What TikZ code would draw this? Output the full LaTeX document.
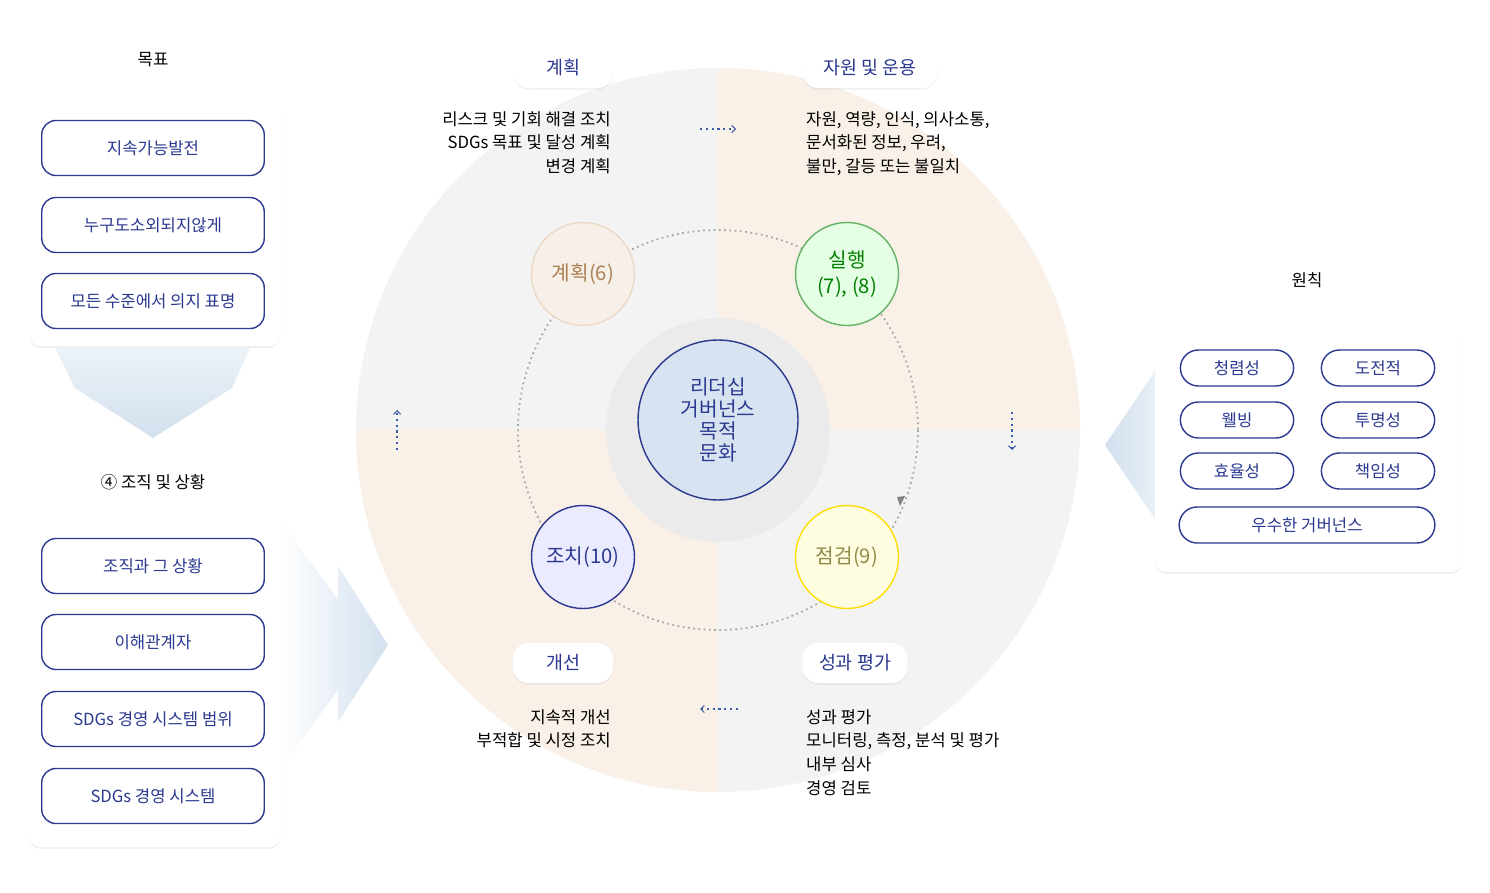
\documentclass[tikz,border=0pt]{standalone}
\usepackage{fontspec}
\setmainfont{Noto Sans CJK KR}
\usetikzlibrary{arrows.meta,positioning,shadows,shapes.misc}
\definecolor{navy}{HTML}{2B3990}
\definecolor{qgray}{HTML}{F3F3F3}
\definecolor{qbeige}{HTML}{F9F0E8}
\definecolor{arrowblue}{HTML}{D2E0EE}
\definecolor{dotblue}{HTML}{3C5BA8}

\begin{document}
\begin{tikzpicture}[
    x=0.02cm, y=-0.02cm,
    font=\fontsize{9.5}{12}\selectfont,
    card/.style={fill=white, rounded corners=6pt, drop shadow={opacity=0.12, shadow xshift=0pt, shadow yshift=-1pt}},
    goalbox/.style={draw=navy, thick, rounded corners=8pt, minimum width=4.45cm, minimum height=1.1cm, text=navy, fill=white},
    pill/.style={draw=navy, thick, rounded rectangle, minimum width=2.5cm, minimum height=0.72cm, text=navy, fill=white},
    tag/.style={fill=white, rounded corners=9pt, minimum width=2cm, minimum height=0.8cm, text=navy, font=\fontsize{10.5}{12}\selectfont, drop shadow={opacity=0.1, shadow xshift=0pt, shadow yshift=-1pt}},
    stage/.style={circle, minimum size=2.06cm, line width=0.8pt, font=\fontsize{11.5}{15}\selectfont, align=center},
    txt/.style={align=#1, font=\fontsize{9.5}{13.5}\selectfont},
    dotarrow/.style={dotblue, line width=1.3pt, dotted, -{Straight Barb[length=2pt,width=4pt,line width=0.6pt]}}
  ]
  \useasboundingbox (0,0) rectangle (1490,892);

  % Cycle background
  \fill[qgray] (718,430) circle[radius=362];
  \begin{scope}
    \clip (718,430) circle[radius=362];
    \fill[qbeige] (718,430) rectangle (1090,60);
    \fill[qbeige] (718,430) rectangle (346,800);
  \end{scope}
  \draw[gray!70, line width=1pt, dotted] (718,430) circle[radius=200];
  \fill[black!8] (718,430) circle[radius=112];
  \node[circle, draw=navy, thick, fill=arrowblue!90!white, minimum size=3.2cm, text=navy, align=center,
        font=\fontsize{11.5}{12.5}\selectfont] (core) at (718,420) {리더십\\거버넌스\\목적\\문화};

  % Stages
  \node[stage, draw=brown!30, fill=brown!12, text=brown!70!gray] (plan) at (583,274) {계획(6)};
  \node[stage, draw=green!50!black!60, fill=green!10, text=green!50!black] (do) at (847,274) {실행\\(7), (8)};
  \node[stage, draw=yellow!80!orange, fill=yellow!12, text=yellow!50!black] (check) at (847,557) {점검(9)};
  \node[stage, draw=navy, fill=blue!8, text=navy] (act) at (583,557) {조치(10)};
  \fill[gray] (900,506) -- (905,496) -- (897,497) -- cycle;

  % Tags and texts
  \node[tag] (tplan) at (563,68) {계획};
  \node[tag, minimum width=2.7cm] (tdo) at (870,68) {자원 및 운용};
  \node[tag] (tact) at (563,663) {개선};
  \node[tag, minimum width=2.1cm] (tcheck) at (855,663) {성과 평가};
  \node[txt=right, anchor=north east] (xplan) at (617,105) {리스크 및 기회 해결 조치\\SDGs 목표 및 달성 계획\\변경 계획};
  \node[txt=left, anchor=north west] (xdo) at (800,105) {자원, 역량, 인식, 의사소통,\\문서화된 정보, 우려,\\불만, 갈등 또는 불일치};
  \node[txt=right, anchor=north east] (xact) at (617,703) {지속적 개선\\부적합 및 시정 조치};
  \node[txt=left, anchor=north west] (xcheck) at (800,703) {성과 평가\\모니터링, 측정, 분석 및 평가\\내부 심사\\경영 검토};

  % Flow marks
  \coordinate (a1) at (700,129); \coordinate (a2) at (736,129);
  \coordinate (b1) at (1012,412); \coordinate (b2) at (1012,450);
  \coordinate (c1) at (738,709); \coordinate (c2) at (700,709);
  \coordinate (d1) at (397,450); \coordinate (d2) at (397,410);
  \draw[dotarrow] (a1) -- (a2);
  \draw[dotarrow] (b1) -- (b2);
  \draw[dotarrow] (c1) -- (c2);
  \draw[dotarrow] (d1) -- (d2);

  % Left panel
  \node (goal) at (153,60) {목표};
  \fill[card] (30,102) rectangle (280,346);
  \node[goalbox] (g1) at (153,148) {지속가능발전};
  \node[goalbox] (g2) at (153,225) {누구도소외되지않게};
  \node[goalbox] (g3) at (153,301) {모든 수준에서 의지 표명};
  \shade[top color=arrowblue!40, bottom color=arrowblue] (55,348) -- (250,348) -- (232,388) -- (153,438) -- (75,388) -- cycle;
  \node (ctx) at (153,482) {④ 조직 및 상황};
  \shade[left color=white, right color=arrowblue] (280,520) -- (338,600) -- (338,566) -- (388,645) -- (338,722) -- (338,690) -- (280,770) -- cycle;
  \fill[card] (30,515) rectangle (280,847);
  \node[goalbox] (c1n) at (153,566) {조직과 그 상황};
  \node[goalbox] (c2n) at (153,642) {이해관계자};
  \node[goalbox] (c3n) at (153,719) {SDGs 경영 시스템 범위};
  \node[goalbox] (c4n) at (153,796) {SDGs 경영 시스템};

  % Right panel
  \node (prin) at (1307,280) {원칙};
  \shade[left color=arrowblue, right color=arrowblue!50] (1105,445) -- (1157,368) -- (1157,522) -- cycle;
  \fill[card] (1155,323) rectangle (1462,572);
  \node[pill] (p1) at (1237,368) {청렴성};
  \node[pill] (p2) at (1378,368) {도전적};
  \node[pill] (p3) at (1237,420) {웰빙};
  \node[pill] (p4) at (1378,420) {투명성};
  \node[pill] (p5) at (1237,471) {효율성};
  \node[pill] (p6) at (1378,471) {책임성};
  \node[pill, minimum width=5.35cm] (p7) at (1307,525) {우수한 거버넌스};
\end{tikzpicture}
\end{document}
